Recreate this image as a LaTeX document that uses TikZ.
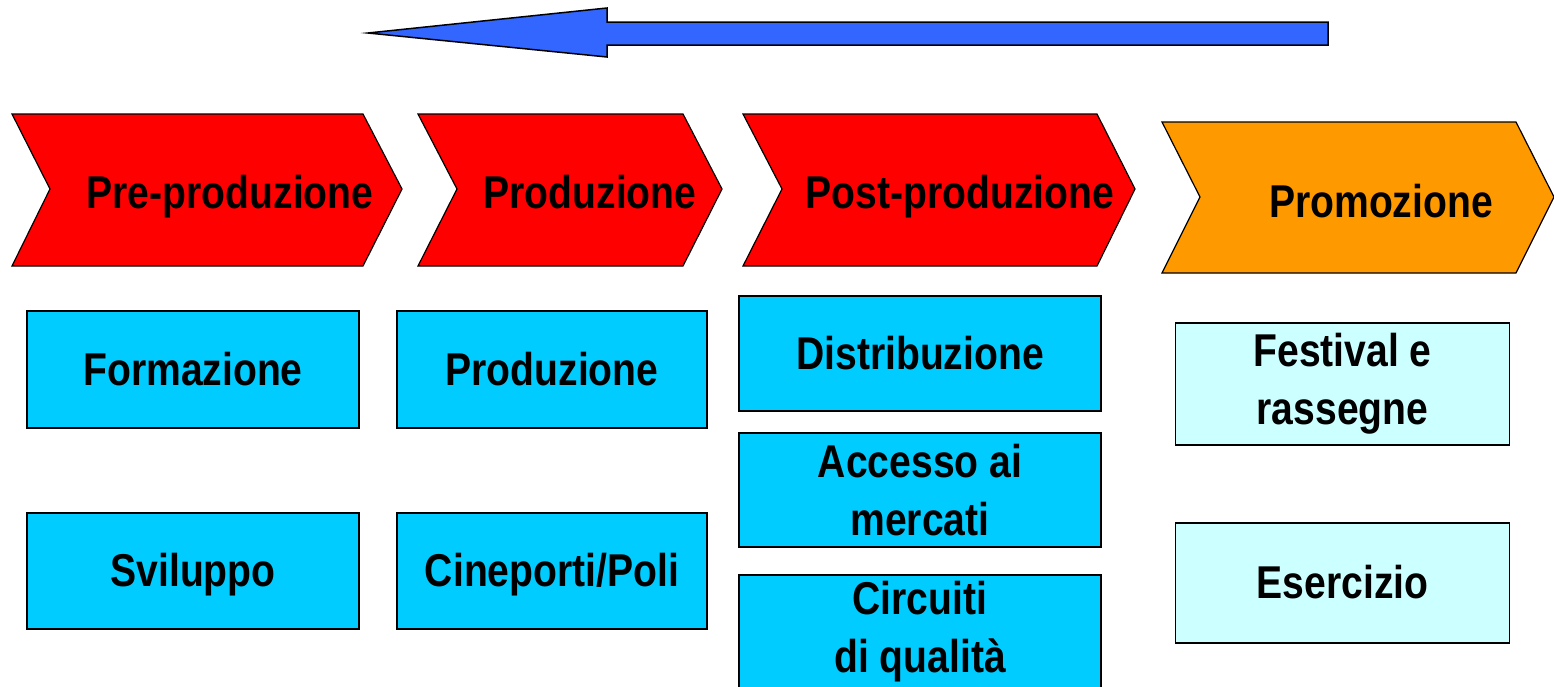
\documentclass[tikz,border=0pt]{standalone}
\usepackage{fontspec}
\newfontfamily\chartfont{Liberation Sans}[FakeStretch=0.85]
\definecolor{phasered}{HTML}{FF0000}
\definecolor{phaseorange}{HTML}{FF9900}
\definecolor{arrowblue}{HTML}{3366FF}
\definecolor{blockcyan}{HTML}{00CCFF}
\definecolor{blocklight}{HTML}{CCFFFF}
\begin{document}
\begin{tikzpicture}[x=1pt,y=-1pt]
    \tikzstyle{chevron} = [draw, line width=1.2pt, line join=miter]
    \tikzstyle{label} = [anchor=base, inner sep=0pt, font=\chartfont\bfseries\fontsize{46pt}{58pt}\selectfont]
    \tikzstyle{block} = [rectangle, draw, line width=1.5pt, align=center, inner sep=0pt, font=\chartfont\bfseries\fontsize{46pt}{58pt}\selectfont]
    \tikzstyle{oneline} = [text height=41pt, text depth=10pt]
    \useasboundingbox (0,0) rectangle (1554,686);

    \draw [line width=1.5pt, fill=arrowblue, line join=miter] (1328,22) -- (607,22) -- (607,8) -- (368,33) -- (607,57) -- (607,45) -- (1328,45) -- cycle;

    \draw [chevron, fill=phasered] (12,114) -- (363,114) -- (402,189) -- (363,266) -- (12,266) -- (50,189) -- cycle;
    \draw [chevron, fill=phasered] (418,114) -- (683,114) -- (722,189) -- (683,266) -- (418,266) -- (457,189) -- cycle;
    \draw [chevron, fill=phasered] (743,114) -- (1097,114) -- (1135,189) -- (1097,266) -- (743,266) -- (782,189) -- cycle;
    \draw [chevron, fill=phaseorange] (1162,122) -- (1516,122) -- (1554,197) -- (1516,273) -- (1162,273) -- (1200,197) -- cycle;

    \node (preprod) [label] at (230,208) {Pre-produzione};
    \node (prod) [label] at (590,208) {Produzione};
    \node (postprod) [label] at (960,208) {Post-produzione};
    \node (promo) [label] at (1381,217) {Promozione};

    \node (formazione) [block, oneline, fill=blockcyan, minimum width=332pt, minimum height=117pt] at (193,369.5) {Formazione};
    \node (sviluppo) [block, oneline, fill=blockcyan, minimum width=332pt, minimum height=116pt] at (193,571) {Sviluppo};
    \node (produzione) [block, oneline, fill=blockcyan, minimum width=310pt, minimum height=117pt] at (552,369.5) {Produzione};
    \node (cineporti) [block, oneline, fill=blockcyan, minimum width=310pt, minimum height=116pt] at (552,571) {Cineporti/Poli};
    \node (distribuzione) [block, oneline, fill=blockcyan, minimum width=362pt, minimum height=115pt] at (920,353.5) {Distribuzione};
    \node (accesso) [block, fill=blockcyan, minimum width=362pt, minimum height=114pt] at (920,490) {Accesso ai\\ mercati};
    \node (circuiti) [block, fill=blockcyan, minimum width=362pt, minimum height=114pt] at (920,632) {Circuiti\\ di qualità};
    \node (festival) [block, fill=blocklight, minimum width=334pt, minimum height=122pt] at (1342.5,384) {Festival e\\ rassegne};
    \node (esercizio) [block, oneline, fill=blocklight, minimum width=334pt, minimum height=120pt] at (1342.5,583) {Esercizio};

\end{tikzpicture}
\end{document}
